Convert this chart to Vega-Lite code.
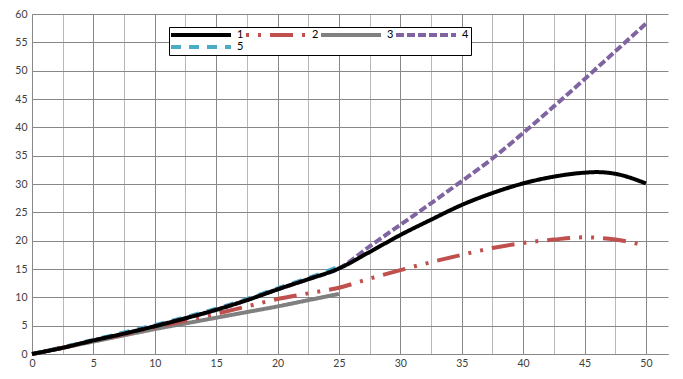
{
  "$schema": "https://vega.github.io/schema/vega-lite/v6.json",
  "width": 636,
  "height": 340,
  "autosize": {"type": "none"},
  "padding": {"left": 32, "top": 14, "right": 15, "bottom": 25},
  "background": "white",
  "config": {
    "view": {"stroke": null},
    "font": "Lato",
    "axis": {"labelFont": "Lato", "labelFontSize": 10.5, "labelColor": "#404040", "ticks": false, "domainColor": "#888888", "gridColor": "#888888", "gridOpacity": 1, "title": null}
  },
  "data": {
    "values": [
      {"s": "5", "x": 0, "y": 0}, {"s": "5", "x": 2.5, "y": 1.2}, {"s": "5", "x": 5, "y": 2.5}, {"s": "5", "x": 7.5, "y": 3.8}, {"s": "5", "x": 10, "y": 5.1}, {"s": "5", "x": 12.5, "y": 6.5}, {"s": "5", "x": 15, "y": 8.0}, {"s": "5", "x": 17.5, "y": 9.7}, {"s": "5", "x": 20, "y": 11.6}, {"s": "5", "x": 22.5, "y": 13.4}, {"s": "5", "x": 25, "y": 15.4},
      {"s": "4", "x": 0, "y": 0}, {"s": "4", "x": 2.5, "y": 1.1}, {"s": "4", "x": 5, "y": 2.4}, {"s": "4", "x": 7.5, "y": 3.6}, {"s": "4", "x": 10, "y": 4.9}, {"s": "4", "x": 12.5, "y": 6.3}, {"s": "4", "x": 15, "y": 7.8}, {"s": "4", "x": 17.5, "y": 9.5}, {"s": "4", "x": 20, "y": 11.4}, {"s": "4", "x": 22.5, "y": 13.2}, {"s": "4", "x": 25, "y": 15.1}, {"s": "4", "x": 27.5, "y": 19.0}, {"s": "4", "x": 30, "y": 22.8}, {"s": "4", "x": 32.5, "y": 26.6}, {"s": "4", "x": 35, "y": 30.5}, {"s": "4", "x": 37.5, "y": 34.5}, {"s": "4", "x": 40, "y": 39.0}, {"s": "4", "x": 42.5, "y": 43.7}, {"s": "4", "x": 45, "y": 48.5}, {"s": "4", "x": 47.5, "y": 53.4}, {"s": "4", "x": 50, "y": 58.3},
      {"s": "3", "x": 0, "y": 0}, {"s": "3", "x": 2.5, "y": 1.1}, {"s": "3", "x": 5, "y": 2.2}, {"s": "3", "x": 7.5, "y": 3.3}, {"s": "3", "x": 10, "y": 4.4}, {"s": "3", "x": 12.5, "y": 5.4}, {"s": "3", "x": 15, "y": 6.4}, {"s": "3", "x": 17.5, "y": 7.4}, {"s": "3", "x": 20, "y": 8.4}, {"s": "3", "x": 22.5, "y": 9.5}, {"s": "3", "x": 25, "y": 10.6},
      {"s": "2", "x": 0, "y": 0}, {"s": "2", "x": 2.5, "y": 1.1}, {"s": "2", "x": 5, "y": 2.3}, {"s": "2", "x": 7.5, "y": 3.5}, {"s": "2", "x": 10, "y": 4.7}, {"s": "2", "x": 12.5, "y": 5.9}, {"s": "2", "x": 15, "y": 7.1}, {"s": "2", "x": 17.5, "y": 8.4}, {"s": "2", "x": 20, "y": 9.7}, {"s": "2", "x": 22.5, "y": 10.7}, {"s": "2", "x": 25, "y": 11.7}, {"s": "2", "x": 27.5, "y": 13.3}, {"s": "2", "x": 30, "y": 14.8}, {"s": "2", "x": 32.5, "y": 16.2}, {"s": "2", "x": 35, "y": 17.5}, {"s": "2", "x": 37.5, "y": 18.7}, {"s": "2", "x": 40, "y": 19.6}, {"s": "2", "x": 42.5, "y": 20.2}, {"s": "2", "x": 45, "y": 20.6}, {"s": "2", "x": 47.5, "y": 20.2}, {"s": "2", "x": 50, "y": 19.1},
      {"s": "1", "x": 0, "y": 0}, {"s": "1", "x": 2.5, "y": 1.1}, {"s": "1", "x": 5, "y": 2.4}, {"s": "1", "x": 7.5, "y": 3.6}, {"s": "1", "x": 10, "y": 4.9}, {"s": "1", "x": 12.5, "y": 6.3}, {"s": "1", "x": 15, "y": 7.8}, {"s": "1", "x": 17.5, "y": 9.5}, {"s": "1", "x": 20, "y": 11.4}, {"s": "1", "x": 22.5, "y": 13.2}, {"s": "1", "x": 25, "y": 15.1}, {"s": "1", "x": 27.5, "y": 18.0}, {"s": "1", "x": 30, "y": 21.0}, {"s": "1", "x": 32.5, "y": 23.7}, {"s": "1", "x": 35, "y": 26.3}, {"s": "1", "x": 37.5, "y": 28.4}, {"s": "1", "x": 40, "y": 30.1}, {"s": "1", "x": 42.5, "y": 31.3}, {"s": "1", "x": 45, "y": 32.0}, {"s": "1", "x": 46, "y": 32.1}, {"s": "1", "x": 47.5, "y": 31.8}, {"s": "1", "x": 50, "y": 30.1}
    ]
  },
  "mark": {"type": "line", "interpolate": "monotone", "strokeCap": "butt"},
  "encoding": {
    "x": {
      "field": "x", "type": "quantitative",
      "scale": {"domain": [0, 51.8], "nice": false, "zero": false},
      "axis": {
        "values": [0, 2.5, 5, 7.5, 10, 12.5, 15, 17.5, 20, 22.5, 25, 27.5, 30, 32.5, 35, 37.5, 40, 42.5, 45, 47.5, 50],
        "labelExpr": "datum.value % 5 === 0 ? datum.label : ''",
        "gridColor": {"condition": {"test": "datum.value % 5 === 0", "value": "#888888"}, "value": "#b8b8b8"},
        "labelPadding": 4,
        "labelFlush": false
      }
    },
    "y": {
      "field": "y", "type": "quantitative",
      "scale": {"domain": [0, 60], "nice": false},
      "axis": {"values": [0, 5, 10, 15, 20, 25, 30, 35, 40, 45, 50, 55, 60], "labelPadding": 5}
    },
    "color": {
      "field": "s", "type": "nominal",
      "scale": {"domain": ["1", "2", "3", "4", "5"], "range": ["#000000", "#C0504D", "#808080", "#8064A2", "#4BACC6"]},
      "legend": {
        "orient": "none", "legendX": 137, "legendY": 13, "title": null, "columns": 4, "direction": "horizontal",
        "symbolType": "M-2.75,0H27.25", "symbolSize": 16, "symbolStrokeWidth": 4,
        "labelOffset": 55, "labelFontSize": 11, "labelColor": "#000000", "labelFont": "Lato",
        "columnPadding": 2, "rowPadding": 0, "padding": 2, "clipHeight": 12,
        "strokeColor": "#000000", "fillColor": "#ffffff"
      }
    },
    "strokeDash": {
      "field": "s", "type": "nominal",
      "scale": {"domain": ["1", "2", "3", "4", "5"], "range": [[1, 0], [3, 9, 3, 9, 23, 9], [1, 0], [8, 3], [10, 8]]},
      "legend": null
    },
    "strokeWidth": {
      "field": "s", "type": "nominal",
      "scale": {"domain": ["1", "2", "3", "4", "5"], "range": [4, 4, 4, 3, 3]},
      "legend": null
    }
  }
}
